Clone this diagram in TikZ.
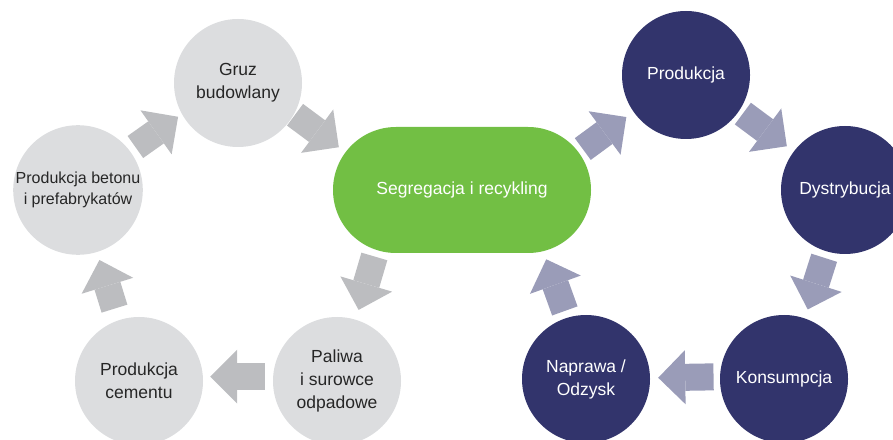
\documentclass[tikz,border=0pt]{standalone}
\usepackage{fontspec}
\setmainfont{Liberation Sans}
\usetikzlibrary{arrows.meta,shapes.misc}
\definecolor{CycleGrey}{HTML}{DCDDDF}
\definecolor{ArrowGrey}{HTML}{BCBDC0}
\definecolor{RecycleGreen}{HTML}{72BF44}
\definecolor{CycleNavy}{HTML}{32346C}
\definecolor{ArrowNavy}{HTML}{9A9CB8}
\definecolor{TextDark}{HTML}{262626}

\begin{document}
\begin{tikzpicture}[
	x=1pt, y=1pt,
	disc/.style={circle, minimum size=128pt, inner sep=0pt, align=center, font=\fontsize{17.5}{23}\selectfont},
	greydisc/.style={disc, fill=CycleGrey, text=TextDark},
	navydisc/.style={disc, fill=CycleNavy, text=white},
	flow/.style={line width=27pt, -{Triangle[width=54pt, length=27pt, line width=0pt]}},
	greyflow/.style={flow, draw=ArrowGrey},
	navyflow/.style={flow, draw=ArrowNavy}
]
\useasboundingbox (0,0) rectangle (893,439);

\node[greydisc] (gruz) at (238,356) {Gruz\\budowlany};
\node[greydisc, minimum size=126pt, font=\fontsize{16}{21}\selectfont] (beton) at (78,249) {Produkcja betonu\\i prefabrykatów};
\node[greydisc] (cement) at (139,58) {Produkcja\\cementu};
\node[greydisc] (paliwa) at (337,58) {Paliwa\\i surowce\\odpadowe};
\node[rounded rectangle, fill=RecycleGreen, text=white, inner sep=0pt, minimum width=258pt, minimum height=126pt, font=\fontsize{17.5}{23}\selectfont] (seg) at (462,249) {Segregacja i recykling};
\node[navydisc] (prod) at (686,364) {Produkcja};
\node[navydisc] (dyst) at (845,249) {Dystrybucja};
\node[navydisc] (kons) at (784,60) {Konsumpcja};
\node[navydisc] (napr) at (586,60) {Naprawa /\\Odzysk};

\draw[greyflow, shorten <=6.7pt, shorten >=4.6pt] (beton.37) -- (gruz.209);
\draw[greyflow, shorten <=1.1pt, shorten >=8.2pt] (gruz.-29) -- (seg.162.6);
\draw[greyflow, shorten <=6.7pt, shorten >=10.1pt] (seg.215.6) -- (paliwa.73.6);
\draw[greyflow, shorten <=8.2pt, shorten >=7.2pt] (paliwa.176) -- (cement.4);
\draw[greyflow, shorten <=12.2pt, shorten >=8.2pt] (cement.109.5) -- (beton.-73.5);

\draw[navyflow, shorten <=5.2pt, shorten >=8.8pt] (seg.18.5) -- (prod.215.6);
\draw[navyflow, shorten <=4.5pt, shorten >=8.6pt] (prod.-34.8) -- (dyst.143.4);
\draw[navyflow, shorten <=6.7pt, shorten >=9.3pt] (dyst.-107.9) -- (kons.71.9);
\draw[navyflow, shorten <=6.3pt, shorten >=8pt] (kons.178.7) -- (napr.1.3);
\draw[navyflow, shorten <=7.1pt, shorten >=8.5pt] (napr.107.2) -- (seg.-37.2);
\end{tikzpicture}
\end{document}
